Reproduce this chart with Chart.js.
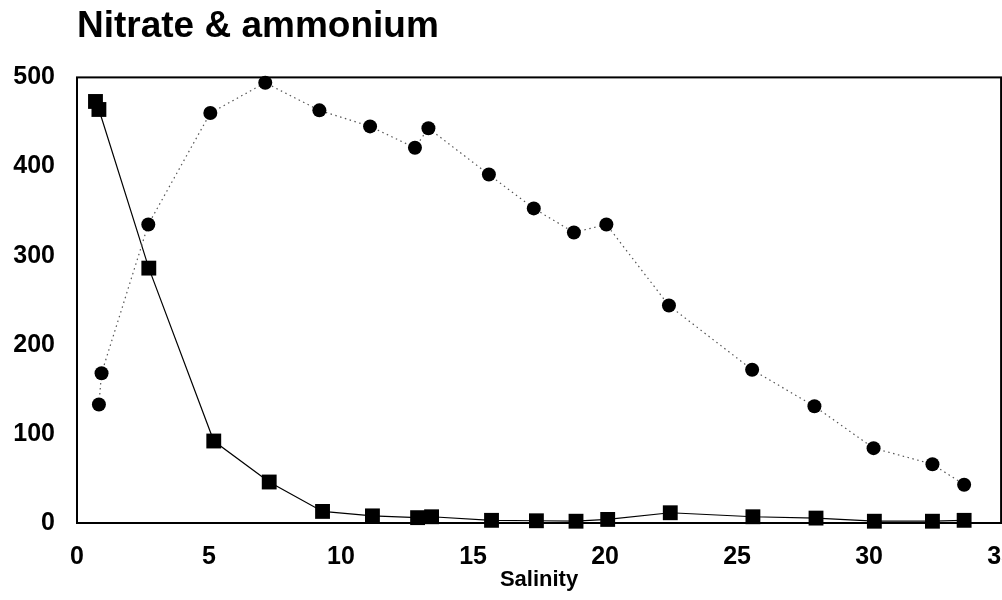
<!DOCTYPE html>
<html>
<head>
<meta charset="utf-8">
<script src="https://cdn.jsdelivr.net/npm/chart.js@4.4.1/dist/chart.umd.min.js"></script>
<style>
    html, body { margin: 0; padding: 0; background: #fff; overflow: hidden; }
    /* wider than the window: the last x label is cut off like in the original */
    #wrap { width: 1037px; height: 600px; }
</style>
</head>
<body>
<div id="wrap"><canvas id="myChart"></canvas></div>
<script>
// 数据 (salinity on x, concentration on y)
var nitrateSalinity = [0.83, 0.93, 2.7, 5.05, 7.13, 9.18, 11.1, 12.8, 13.31, 15.6, 17.3, 18.82, 20.05, 22.42, 25.57, 27.93, 30.17, 32.4, 33.6];
var nitrate = [133, 168, 335, 460, 494, 463, 445, 421, 443, 391, 353, 326, 335, 244, 172, 131, 84, 66, 43];

var ammoniumSalinity = [0.7, 0.83, 2.72, 5.18, 7.28, 9.3, 11.19, 12.9, 13.43, 15.7, 17.4, 18.9, 20.1, 22.47, 25.6, 27.99, 30.2, 32.4, 33.6];
var ammonium = [473, 464, 286, 92, 46, 13, 8, 6, 7, 3, 2.5, 2, 4, 11.5, 7, 5.5, 2, 2, 3];

var xTickStep = 5;
var yTickStep = 100;

function toPoints(xs, ys) {
    return xs.map(function (x, i) { return {x: x, y: ys[i]}; });
}

// frame round the plot area
var framePlugin = {
    id: 'frame',
    afterDatasetsDraw: function (chart) {
        var a = chart.chartArea;
        var c = chart.ctx;
        c.save();
        c.strokeStyle = '#000';
        c.lineWidth = 2;
        c.strokeRect(a.left, a.top, a.right - a.left, a.bottom - a.top);
        c.restore();
    }
};

var FONT = "'Liberation Sans', Arial, sans-serif";

var ctx = document.getElementById("myChart").getContext("2d");
var myChart = new Chart(ctx, {
    type: 'scatter',
    data: {
        datasets: [
            {
                label: 'Nitrate',
                data: toPoints(nitrateSalinity, nitrate),
                showLine: true,
                borderColor: '#555',
                borderWidth: 1.2,
                borderDash: [1.5, 3.5],
                pointStyle: 'circle',
                pointRadius: 7,
                pointBackgroundColor: '#000',
                pointBorderColor: '#000',
                pointBorderWidth: 0,
                clip: false
            },
            {
                label: 'Ammonium',
                data: toPoints(ammoniumSalinity, ammonium),
                showLine: true,
                borderColor: '#000',
                borderWidth: 1.2,
                pointStyle: 'rect',
                pointRadius: 10.5,
                pointBackgroundColor: '#000',
                pointBorderColor: '#000',
                pointBorderWidth: 0,
                clip: false
            }
        ]
    },
    options: {
        responsive: true,
        maintainAspectRatio: false,
        animation: false,
        layout: {padding: {left: 13, right: 1, top: 0, bottom: 0}},
        plugins: {
            legend: {display: false},
            tooltip: {enabled: false},
            title: {
                display: true,
                text: 'Nitrate & ammonium',
                align: 'start',
                fullSize: false,
                color: '#000',
                font: {family: FONT, size: 37, weight: 'bold', lineHeight: 1.2},
                padding: {top: 5, bottom: 28}
            }
        },
        scales: {
            x: {
                type: 'linear',
                min: 0,
                max: 35,
                grid: {display: false, drawTicks: false},
                border: {display: false},
                afterFit: function (scale) {
                    scale.height = 77;
                },
                ticks: {
                    stepSize: xTickStep,
                    color: '#000',
                    padding: 22,
                    maxRotation: 0,
                    font: {family: FONT, size: 25, weight: 'bold', lineHeight: 1}
                },
                title: {
                    display: true,
                    text: 'Salinity',
                    color: '#000',
                    font: {family: FONT, size: 22, weight: 'bold', lineHeight: 1},
                    padding: {top: 0, bottom: 9}
                }
            },
            y: {
                type: 'linear',
                min: 0,
                max: 500,
                grid: {display: false, drawTicks: false},
                border: {display: false},
                afterFit: function (scale) {
                    scale.width = 64;
                },
                ticks: {
                    stepSize: yTickStep,
                    color: '#000',
                    padding: 22,
                    font: {family: FONT, size: 25, weight: 'bold'}
                }
            }
        }
    },
    plugins: [framePlugin]
});
</script>
</body>
</html>
